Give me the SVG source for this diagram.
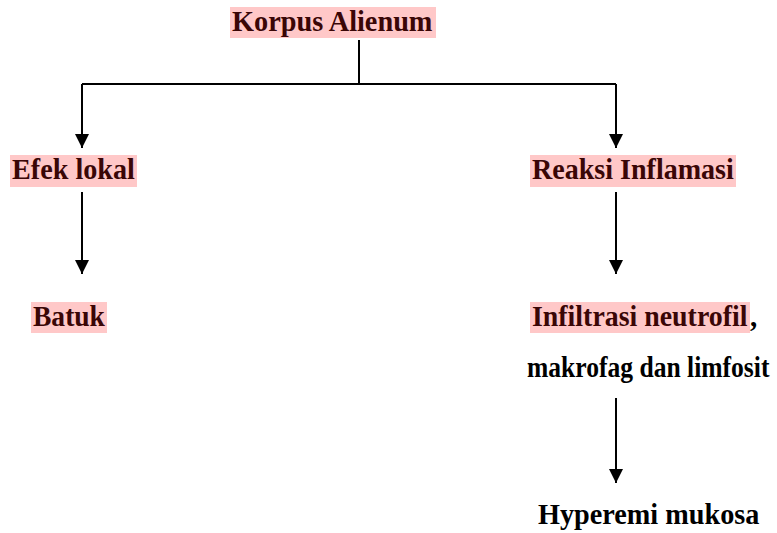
<svg xmlns="http://www.w3.org/2000/svg" width="777" height="533" viewBox="0 0 777 533">
<defs>
<style>
.t{font-family:"Liberation Serif","Times New Roman",serif;font-weight:bold;font-size:29px;fill:#000}
.h{fill:#3a0606}
.bg{fill:#ffc8c8}
.c{stroke:#000;stroke-width:2;fill:none}
</style>
<marker id="a" markerWidth="14" markerHeight="15" refX="14" refY="7" orient="auto" markerUnits="userSpaceOnUse" viewBox="0 0 14 14">
<path d="M0,0 L14,7 L0,14 Z" fill="#000"/>
</marker>
</defs>
<rect width="777" height="533" fill="#fff"/>
<g id="connectors">
<path class="c" d="M359,40 V84"/>
<path class="c" d="M82,84 H616"/>
<path class="c" d="M82,84 V148" marker-end="url(#a)"/>
<path class="c" d="M616,84 V148" marker-end="url(#a)"/>
<path class="c" d="M82,192 V274" marker-end="url(#a)"/>
<path class="c" d="M616,192 V274" marker-end="url(#a)"/>
<path class="c" d="M616,398 V483" marker-end="url(#a)"/>
</g>
<g id="korpus">
<rect class="bg" x="230" y="7" width="206" height="31"/>
<text class="t h" transform="translate(232,31) scale(0.976,1)">Korpus Alienum</text>
</g>
<g id="efek">
<rect class="bg" x="10" y="155" width="127" height="32"/>
<text class="t h" transform="translate(12,179) scale(0.972,1)">Efek lokal</text>
</g>
<g id="reaksi">
<rect class="bg" x="530" y="155" width="206" height="32"/>
<text class="t h" transform="translate(532,179) scale(0.968,1)">Reaksi Inflamasi</text>
</g>
<g id="batuk">
<rect class="bg" x="31" y="302" width="76" height="31"/>
<text class="t h" transform="translate(33,326) scale(0.95,1)">Batuk</text>
</g>
<g id="infiltrasi">
<rect class="bg" x="530" y="302" width="220" height="31"/>
<text class="t h" transform="translate(532,326) scale(0.961,1)">Infiltrasi neutrofil</text>
<text class="t" x="750" y="326">,</text>
<text class="t" transform="translate(527,377) scale(0.882,1)">makrofag dan limfosit</text>
</g>
<g id="hyperemi">
<text class="t" transform="translate(538,524) scale(0.974,1)">Hyperemi mukosa</text>
</g>
</svg>
